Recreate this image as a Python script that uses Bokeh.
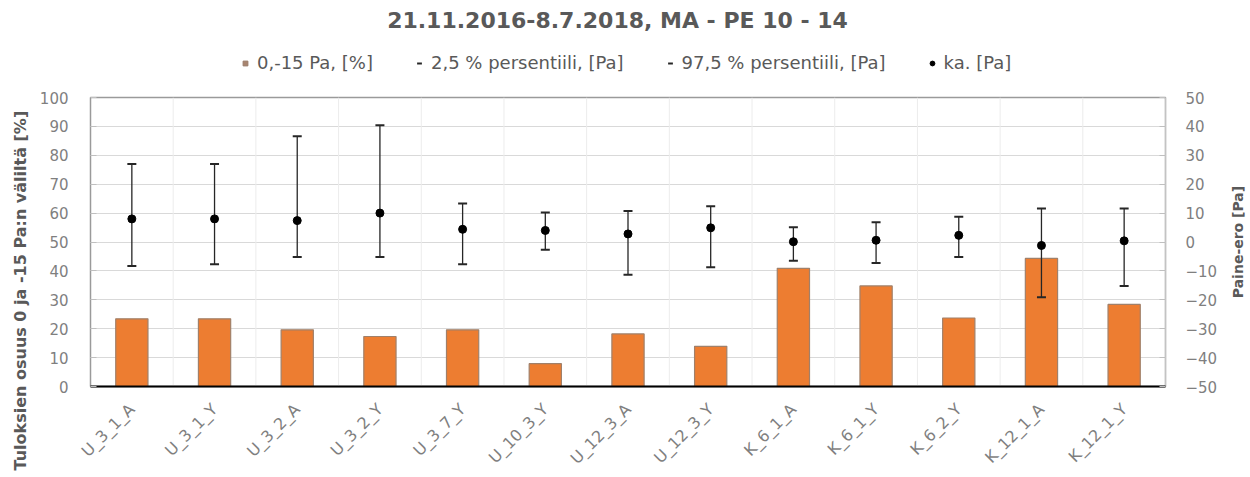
from bokeh.plotting import figure
from bokeh.layouts import column, row
from bokeh.models import (FactorRange, Range1d, LinearAxis, Legend, LegendItem,
                          FixedTicker, ColumnDataSource, Label, Title)
from bokeh.transform import dodge
from bokeh.embed import file_html
from bokeh.resources import INLINE
import math

categories = ["U_3_1_A", "U_3_1_Y", "U_3_2_A", "U_3_2_Y", "U_3_7_Y", "U_10_3_Y", "U_12_3_A",
              "U_12_3_Y", "K_6_1_A", "K_6_1_Y", "K_6_2_Y", "K_12_1_A", "K_12_1_Y"]
share_pct = [23.4, 23.4, 19.6, 17.3, 19.6, 7.9, 18.2, 13.9, 40.9, 34.8, 23.7, 44.3, 28.4]
p025 = [-8.3, -7.7, -5.2, -5.2, -7.7, -2.7, -11.3, -8.7, -6.5, -7.3, -5.2, -19.1, -15.2]
p975 = [27.0, 27.0, 36.6, 40.4, 13.3, 10.2, 10.7, 12.4, 5.1, 6.8, 8.7, 11.6, 11.6]
mean_pa = [8.0, 8.0, 7.4, 10.0, 4.4, 4.0, 2.8, 4.9, 0.1, 0.6, 2.3, -1.2, 0.4]
left_ticks = [0, 10, 20, 30, 40, 50, 60, 70, 80, 90, 100]
right_ticks = [-50, -40, -30, -20, -10, 0, 10, 20, 30, 40, 50]
title_text = "21.11.2016-8.7.2018, MA - PE 10 - 14"
legend_labels = ["0,-15 Pa, [%]", "2,5 % persentiili, [Pa]", "97,5 % persentiili, [Pa]", "ka. [Pa]"]
left_label = "Tuloksien osuus 0 ja -15 Pa:n väliltä [%]"
right_label = "Paine-ero [Pa]"

FONT = "DejaVu Sans"
GRAY = "#595959"
TICKGRAY = "#7f7f7f"
BAR = "#ED7D31"
BAR_LINE = "#A0806A"
ERR = "#262626"

W = 1250
HEAD_H = 87
BODY_H = 390
RIGHT_W = 26
MAIN_W = W - RIGHT_W
TOP_B, BOT_B = 10, 89
FRAME_H = BODY_H - TOP_B - BOT_B
FRAME_LEFT, FRAME_RIGHT = 90, 1165


def blank(width, height, xr, yr):
    f = figure(width=width, height=height, output_backend="svg", toolbar_location=None,
               x_range=Range1d(*xr), y_range=Range1d(*yr),
               x_axis_type=None, y_axis_type=None, min_border=0)
    f.outline_line_color = None
    f.grid.grid_line_color = None
    return f


# ---------------- header: title + legend ----------------
head = blank(W, HEAD_H, (0, W), (0, HEAD_H))
head.add_layout(Label(x=W / 2 - 8, y=HEAD_H - 20, text=title_text, text_align="center",
                      text_baseline="middle", text_font=FONT, text_font_size="22px",
                      text_font_style="bold", text_color=GRAY))

# legend swatches: off-canvas dummy glyphs (only their legend entries are seen)
dummy = ColumnDataSource(dict(x=[-1000], y=[-1000]))
r_bar = head.scatter(x="x", y="y", source=dummy, marker="square", size=11,
                     fill_color="#A8846F", line_color="#9A7C6A")
r_lo = head.scatter(x="x", y="y", source=dummy, marker="dash", size=9,
                    line_color=ERR, line_width=2)
r_hi = head.scatter(x="x", y="y", source=dummy, marker="dash", size=9,
                    line_color=ERR, line_width=2)
r_mean = head.scatter(x="x", y="y", source=dummy, marker="circle", size=7,
                      fill_color="black", line_color="black")

legend = Legend(items=[LegendItem(label=lab, renderers=[r]) for lab, r in
                       zip(legend_labels, [r_bar, r_lo, r_hi, r_mean])],
                orientation="horizontal", location=(239, 14))
legend.label_text_font = FONT
legend.label_text_font_size = "18px"
legend.label_text_color = GRAY
legend.glyph_width = 12
legend.glyph_height = 12
legend.label_standoff = 6
legend.spacing = 40
legend.border_line_color = None
legend.background_fill_alpha = 0
legend.padding = 4
legend.margin = 0
head.add_layout(legend, "center")

# ---------------- right axis-title strip (its frame aligns with the chart frame) ----------------
right_strip = blank(RIGHT_W, BODY_H, (0, RIGHT_W), (0, FRAME_H))
right_strip.add_layout(Label(x=RIGHT_W / 2, y=FRAME_H / 2, text=right_label,
                             angle=math.pi / 2, text_align="center", text_baseline="middle",
                             text_font=FONT, text_font_size="14px", text_font_style="bold",
                             text_color=GRAY))

# ---------------- main chart ----------------
src = ColumnDataSource(dict(cat=categories, share=share_pct, lo=p025, hi=p975, mean=mean_pa,
                            g0=[left_ticks[0]] * len(categories),
                            g1=[left_ticks[-1]] * len(categories)))

p = figure(width=MAIN_W, height=BODY_H, output_backend="svg", toolbar_location=None,
           x_range=FactorRange(factors=categories, range_padding=0),
           y_range=Range1d(left_ticks[0], left_ticks[-1]),
           min_border_left=FRAME_LEFT, min_border_right=MAIN_W - FRAME_RIGHT,
           min_border_top=TOP_B, min_border_bottom=BOT_B)
p.extra_y_ranges = {"pa": Range1d(right_ticks[0], right_ticks[-1])}

# vertical grid at category boundaries
p.segment(x0=dodge("cat", 0.5, range=p.x_range), y0="g0",
          x1=dodge("cat", 0.5, range=p.x_range), y1="g1", source=src,
          line_color="#ececec", line_width=1)

p.vbar(x="cat", top="share", width=0.39, source=src,
       fill_color=BAR, line_color=BAR_LINE, line_width=1.2)
p.segment(x0="cat", y0="lo", x1="cat", y1="hi", source=src, y_range_name="pa",
          line_color=ERR, line_width=1.3)
p.scatter(x="cat", y="lo", source=src, y_range_name="pa", marker="dash",
          size=9, line_color=ERR, line_width=2)
p.scatter(x="cat", y="hi", source=src, y_range_name="pa", marker="dash",
          size=9, line_color=ERR, line_width=2)
p.scatter(x="cat", y="mean", source=src, y_range_name="pa", marker="circle",
          size=8, fill_color="black", line_color="black")

p.yaxis.ticker = FixedTicker(ticks=left_ticks)
right = LinearAxis(y_range_name="pa", ticker=FixedTicker(ticks=right_ticks))
p.add_layout(right, "right")

for ax, so in [(p.yaxis[0], 22), (right, 20)]:
    ax.major_label_text_font = FONT
    ax.major_label_text_font_size = "15px"
    ax.major_label_text_color = TICKGRAY
    ax.axis_line_color = None
    ax.major_tick_line_color = "#bfbfbf"
    ax.major_tick_in = 6
    ax.major_tick_out = 0
    ax.minor_tick_line_color = None
    ax.major_label_standoff = so

# left axis title: starts below the frame bottom, as in the original
p.add_layout(Title(text=left_label, align="left", offset=-(BOT_B - 5), text_font=FONT,
                   text_font_size="16px", text_font_style="bold", text_color=GRAY,
                   standoff=14), "left")

ax = p.xaxis[0]
ax.major_label_orientation = math.pi / 4
ax.major_label_text_font = FONT
ax.major_label_text_font_size = "16px"
ax.major_label_text_color = TICKGRAY
ax.axis_line_color = "black"
ax.axis_line_width = 2
ax.major_tick_line_color = None
ax.minor_tick_line_color = None
ax.major_label_standoff = 14

p.outline_line_color = "#9a9a9a"
p.outline_line_width = 1.5
p.ygrid.grid_line_color = "#d9d9d9"
p.ygrid.ticker = FixedTicker(ticks=left_ticks)
p.xgrid.grid_line_color = None

layout = column(head, row(p, right_strip, spacing=0), spacing=0)
open("out.html", "w").write(file_html(layout, INLINE))
